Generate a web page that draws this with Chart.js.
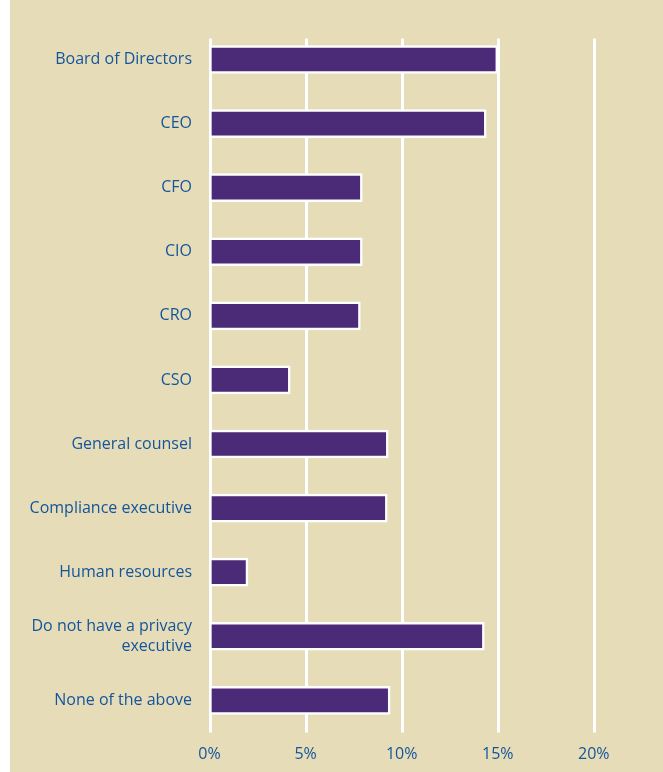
<!DOCTYPE html>
<html>
<head>
<meta charset="utf-8">
<script src="https://cdn.jsdelivr.net/npm/chart.js@4"></script>
<style>
  html, body { margin: 0; padding: 0; background: #ffffff; }
  #wrap { position: absolute; left: 10px; top: 0; width: 653px; height: 772px; background: #e6ddb8; }
</style>
</head>
<body>
<div id="wrap"><canvas id="reportingChart"></canvas></div>
<script>
// Who the privacy executive reports to (% of respondents)
const categories = [
    'Board of Directors',
    'CEO',
    'CFO',
    'CIO',
    'CRO',
    'CSO',
    'General counsel',
    'Compliance executive',
    'Human resources',
    ['Do not have a privacy', 'executive'],
    'None of the above'
];
const shares = [15.0, 14.4, 7.95, 7.95, 7.85, 4.2, 9.3, 9.25, 2.0, 14.3, 9.4];
const tickValues = [0, 5, 10, 15, 20];

const textBlue = '#14549c';

// White vertical grid lines that start a little below the top of the plot
const gridLines = {
    id: 'gridLines',
    beforeDatasetsDraw(chart) {
        const { ctx, chartArea, scales } = chart;
        ctx.save();
        ctx.strokeStyle = '#ffffff';
        ctx.lineWidth = 3;
        tickValues.forEach(v => {
            const x = Math.round(scales.x.getPixelForValue(v)) + 0.5;
            ctx.beginPath();
            ctx.moveTo(x, chartArea.top + 11);
            ctx.lineTo(x, chartArea.bottom);
            ctx.stroke();
        });
        ctx.restore();
    }
};

const ctx = document.getElementById('reportingChart').getContext('2d');

new Chart(ctx, {
    type: 'bar',
    data: {
        labels: categories,
        datasets: [{
            data: shares,
            backgroundColor: '#4b2a77',
            borderColor: '#ffffff',
            borderWidth: 2.5,
            borderSkipped: false,
            barThickness: 28
        }]
    },
    options: {
        indexAxis: 'y',
        responsive: true,
        maintainAspectRatio: false,
        animation: false,
        layout: { padding: { top: 24, right: 0, left: 0, bottom: 0 } },
        plugins: {
            legend: { display: false },
            tooltip: { enabled: false }
        },
        scales: {
            x: {
                min: 0,
                max: 23.6,
                afterBuildTicks: s => { s.ticks = tickValues.map(v => ({ value: v })); },
                afterFit: s => { s.height = 39.6; },
                grid: { display: false, drawTicks: false },
                border: { display: false },
                ticks: {
                    stepSize: 5,
                    padding: 12,
                    color: textBlue,
                    font: { family: 'Open Sans', size: 16 },
                    callback: v => v + '%'
                }
            },
            y: {
                afterFit: s => { s.width = 199.5; },
                grid: { display: false, drawTicks: false },
                border: { display: false },
                ticks: {
                    padding: 17.5,
                    color: textBlue,
                    font: { family: 'Open Sans', size: 16, lineHeight: 1.25 }
                }
            }
        }
    },
    plugins: [gridLines]
});
</script>
</body>
</html>
